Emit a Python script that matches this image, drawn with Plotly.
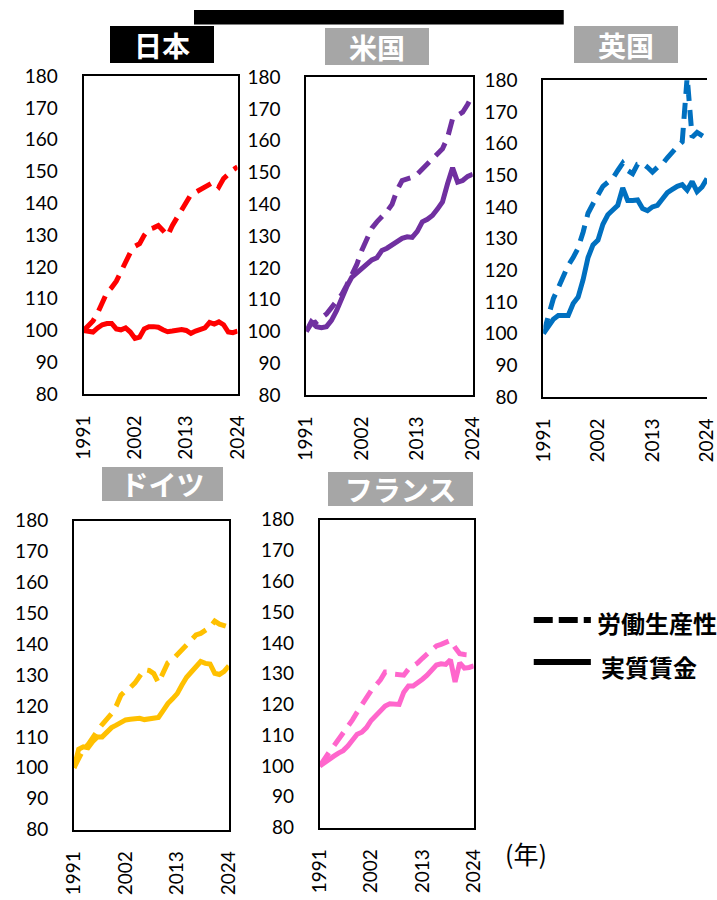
import plotly.graph_objects as go

W, H = 717, 900

years = list(range(1991, 2025))
x_ticks = [1991, 2002, 2013, 2024]
y_ticks = list(range(80, 181, 10))

jp_prod = [100, 101.5, 103, 105.5, 108.5, 112, 113.5, 115.5, 118.5, 122,
           124.5, 126.5, 127.3, 130, 131.8, 132.3, 133, 131.5, 129.8, 133,
           135.5, 138, 141, 142.8, 143.5, 144.2, 145, 146, 146.8, 145.2,
           147.8, 149.3, 150.5, 151.5]
jp_wage = [100, 99.8, 99.5, 100.8, 101.8, 102.2, 102.2, 100.5, 100.2, 100.8,
           99.5, 97.5, 97.9, 100.5, 101.2, 101.2, 101, 100.2, 99.6, 99.8,
           100, 100.3, 100, 99.1, 99.8, 100.3, 100.8, 102.5, 102, 102.7,
           101.8, 99.5, 99.3, 99.8]

us_prod = [100, 102.5, 103, 104.3, 105.5, 107.5, 109.3, 111.5, 114.5, 118,
           121, 125.5, 129.5, 132.5, 134.5, 136, 137.8, 140, 144.5, 147.5,
           148, 148.5, 149.5, 151, 152.5, 154, 155.5, 157.5, 161, 167,
           168, 169, 171.5, 174.5]
us_wage = [100, 103, 101.5, 101.2, 101.5, 103.5, 106.5, 110.5, 114, 117,
           118.5, 120, 121.5, 122.5, 123.2, 125.5, 126.2, 127.3, 128.5, 129.3,
           129.8, 129.6, 131.5, 134.5, 135.3, 136.5, 138.5, 140.8, 146.5, 151.5,
           147, 147.5, 148.8, 149.5]

uk_prod = [100, 105, 111, 114.5, 118, 121.5, 124, 127, 132, 138,
           141, 144, 146.5, 147.8, 149, 151.5, 153.8, 151.5, 150.5, 153.5,
           153.8, 152.5, 151, 152.5, 153.5, 155.5, 157.5, 159, 160.5, 181,
           162, 163.5, 162.5, 161.5]
uk_wage = [100, 102.5, 104.5, 105.7, 105.7, 105.7, 109.5, 111.5, 117, 124,
           128, 129.5, 134.5, 137.5, 139, 140.5, 146, 142, 142, 142.2,
           139.5, 138.8, 140, 140.5, 142.5, 144.5, 145.5, 146.5, 147, 145.3,
           148, 144.8, 146.3, 149]

de_prod = [100, 103.5, 106, 107.5, 110, 112, 114, 115.5, 117.5, 120,
           123.5, 125, 126, 127.5, 130, 131.8, 131.5, 130.5, 127.5, 131,
           134, 135, 136.5, 138, 139.5, 141.5, 143, 143.5, 144.5, 145.5,
           147.5, 146.5, 146, 145.5]
de_wage = [100, 106, 106.8, 106.5, 108.5, 110, 110, 111.8, 113, 113.8,
           114.8, 115.5, 115.7, 115.8, 116, 115.6, 115.7, 116.1, 116.3, 118.5,
           120.8, 122.3, 124, 126.8, 129.3, 131, 132.5, 134.4, 133.8, 133.6,
           130.6, 130.2, 131.2, 133]

fr_prod = [100, 102.5, 104.5, 106.5, 108.5, 111, 113, 115, 117.5, 120,
           122.5, 124.5, 126.2, 128, 130.5, 130.5, 129.8, 129.5, 129.5, 131.5,
           132.5, 133.5, 135, 136.3, 137.5, 139, 139.5, 140, 140.8, 138.5,
           136.5, 136.2, 136.2, 136]
fr_wage = [100, 101.2, 102.5, 103.2, 104.2, 105, 106.5, 108.5, 110.3, 111,
           112.5, 114.8, 116.5, 118, 119.5, 120.2, 120.2, 120, 124, 126,
           126, 127, 128.2, 129.5, 131, 132.8, 133.2, 133, 134.5, 127.3,
           133.5, 131.8, 132, 132.5]

country_names = ["日本", "米国", "英国", "ドイツ", "フランス"]
legend_labels = ["労働生産性", "実質賃金"]
unit_label = "(年)"

# ---- layout (pixel geometry) ----
panels = [
    dict(prod=jp_prod, wage=jp_wage, color="#FF0000", area=(73, 232, 66, 392),
         tbox=(154, 33.5, 104, 37), tbg="#000000", mirror_y=True),
    dict(prod=us_prod, wage=us_wage, color="#7030A0", area=(303, 475, 67, 393),
         tbox=(376.5, 35, 104, 37), tbg="#A6A6A6", mirror_y=True),
    dict(prod=uk_prod, wage=uk_wage, color="#0070C0", area=(548, 717, 70, 395),
         tbox=(633, 33.3, 104, 37), tbg="#A6A6A6", mirror_y=False),
    dict(prod=de_prod, wage=de_wage, color="#FFC000", area=(63, 223, 522, 839),
         tbox=(154.5, 484, 121, 34), tbg="#A6A6A6", mirror_y=True),
    dict(prod=fr_prod, wage=fr_wage, color="#FF66CC", area=(317, 476, 521, 837),
         tbox=(400.5, 489, 145, 34), tbg="#A6A6A6", mirror_y=True),
]

def px(x):
    return x / W

def py(y):
    return 1 - y / H

fig = go.Figure()
annotations = []
shapes = []
tick_font = dict(family="Lato, 'Liberation Sans', sans-serif", size=19, color="black")
jp_font = "'Noto Sans CJK JP', sans-serif"
DASH = "16px,9px"

for i, (p, name) in enumerate(zip(panels, country_names)):
    k = "" if i == 0 else str(i + 1)
    x0, x1, y0, y1 = p["area"]
    fig.add_trace(go.Scatter(x=years, y=p["prod"], mode="lines",
                             line=dict(color=p["color"], width=5, dash=DASH),
                             xaxis="x" + k, yaxis="y" + k, showlegend=False,
                             hoverinfo="skip"))
    fig.add_trace(go.Scatter(x=years, y=p["wage"], mode="lines",
                             line=dict(color=p["color"], width=5),
                             xaxis="x" + k, yaxis="y" + k, showlegend=False,
                             hoverinfo="skip"))
    fig.layout["xaxis" + k] = dict(
        domain=[px(x0), px(x1)], range=[1991, 2024], anchor="y" + k,
        tickmode="array", tickvals=x_ticks, ticktext=[str(t) for t in x_ticks],
        tickangle=-90, tickfont=tick_font, showgrid=False, zeroline=False,
        showline=True, linecolor="black", linewidth=2, mirror=True,
        ticks="", ticklabelstandoff=12, ticklabeloverflow="allow",
        fixedrange=True)
    fig.layout["yaxis" + k] = dict(
        domain=[py(y1), py(y0)], range=[80, 180], anchor="x" + k,
        tickmode="array", tickvals=y_ticks, tickfont=tick_font,
        showgrid=False, zeroline=False, showline=True, linecolor="black",
        linewidth=2, mirror=p["mirror_y"], ticks="", ticklabelstandoff=20,
        ticklabeloverflow="allow", fixedrange=True)
    cx, cy, bw, bh = p["tbox"]
    annotations.append(dict(
        x=px(cx), y=py(cy), xref="paper", yref="paper", xanchor="center",
        yanchor="middle", text="<b>%s</b>" % name, showarrow=False,
        width=bw, height=bh, bgcolor=p["tbg"], borderpad=0, borderwidth=0,
        font=dict(family=jp_font, size=28, color="white")))

# top black bar
shapes.append(dict(type="rect", xref="paper", yref="paper",
                   x0=px(187), x1=px(569), y0=py(12.7), y1=py(-2),
                   fillcolor="black", line=dict(width=0)))

# legend
shapes.append(dict(type="line", xref="paper", yref="paper",
                   x0=px(538), x1=px(597), y0=py(624), y1=py(624),
                   line=dict(color="black", width=6, dash="19px,6px")))
shapes.append(dict(type="line", xref="paper", yref="paper",
                   x0=px(538), x1=px(597), y0=py(667), y1=py(667),
                   line=dict(color="black", width=6)))
annotations.append(dict(x=px(601), y=py(627), xref="paper", yref="paper",
                        xanchor="left", yanchor="middle", showarrow=False,
                        text="<b>%s</b>" % legend_labels[0],
                        font=dict(family=jp_font, size=24, color="black")))
annotations.append(dict(x=px(605), y=py(672), xref="paper", yref="paper",
                        xanchor="left", yanchor="middle", showarrow=False,
                        text="<b>%s</b>" % legend_labels[1],
                        font=dict(family=jp_font, size=24, color="black")))
annotations.append(dict(x=px(530), y=py(863), xref="paper", yref="paper",
                        xanchor="center", yanchor="middle", showarrow=False,
                        text=unit_label,
                        font=dict(family=jp_font, size=25, color="black")))

fig.update_layout(width=W, height=H, margin=dict(l=0, r=0, t=0, b=0),
                  paper_bgcolor="white", plot_bgcolor="white",
                  annotations=annotations, shapes=shapes, showlegend=False)

# Remove the default page margin synchronously (outside the newPlot promise),
# so the 717x900 figure fills the window exactly.
ps = "}); document.body.style.margin = '0'; (function(){"
fig.write_html("out.html", config={"displayModeBar": False}, post_script=ps)
